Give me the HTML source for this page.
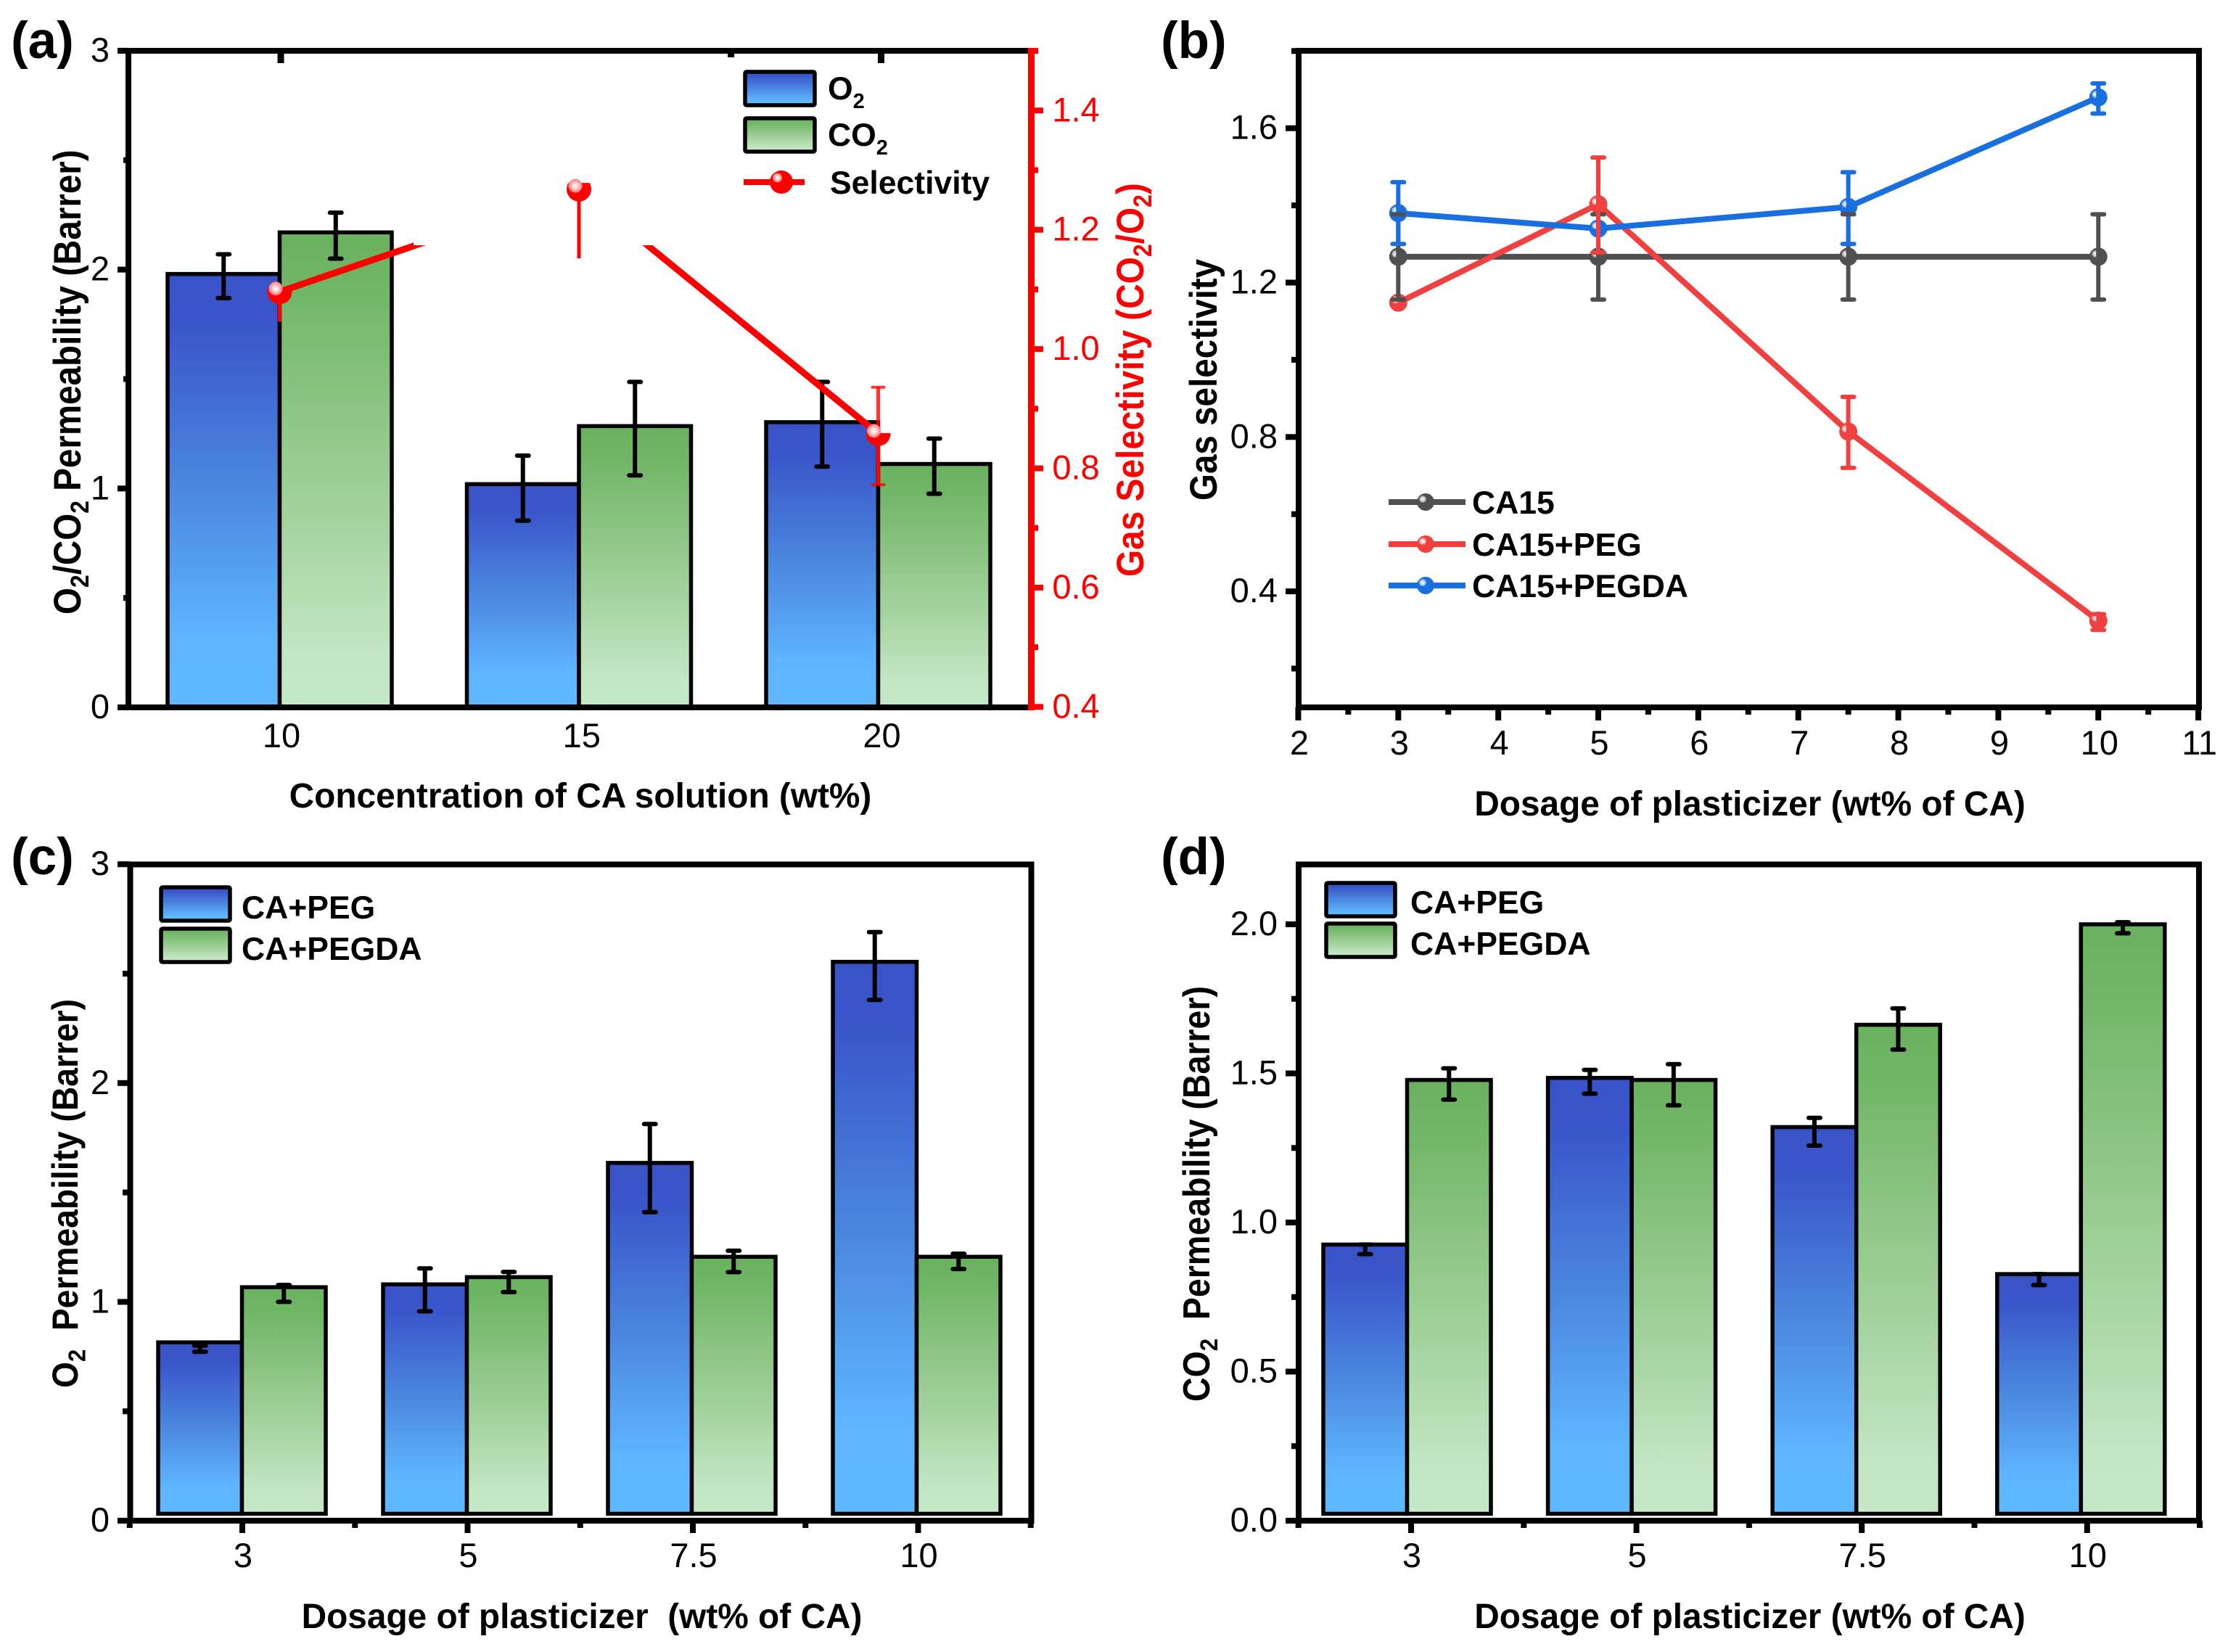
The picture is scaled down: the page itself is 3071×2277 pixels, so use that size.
<!DOCTYPE html>
<html lang="en">
<head>
<meta charset="utf-8">
<title>Gas permeability and selectivity charts</title>
<style>
html,body{margin:0;padding:0;background:#fff;}
svg{display:block;}
text{font-family:"Liberation Sans",Arial,sans-serif;fill:#000;}
.tick{font-size:47px;}
.title{font-size:47.8px;font-weight:bold;}
.panel{font-size:71px;font-weight:bold;}
.leg{font-size:44.5px;font-weight:bold;}
</style>
</head>
<body>
<svg id="fig" xmlns="http://www.w3.org/2000/svg" width="3071" height="2277" viewBox="0 0 3071 2277">
<defs>
<linearGradient id="gBlue" x1="0" y1="0" x2="0" y2="1">
<stop offset="0" stop-color="#3953c7"/><stop offset="0.12" stop-color="#3a56ca"/><stop offset="0.5" stop-color="#4b88e0"/><stop offset="0.85" stop-color="#5fb6ff"/><stop offset="1" stop-color="#5fb8ff"/>
</linearGradient>
<linearGradient id="gGreen" x1="0" y1="0" x2="0" y2="1">
<stop offset="0" stop-color="#6ab25f"/><stop offset="0.1" stop-color="#6fb565"/><stop offset="0.5" stop-color="#9acc92"/><stop offset="0.9" stop-color="#c3e6c4"/><stop offset="1" stop-color="#c5e8c6"/>
</linearGradient>
<radialGradient id="gGlint"><stop offset="0" stop-color="#ffffff"/><stop offset="0.45" stop-color="#ffffff" stop-opacity="0.8"/><stop offset="1" stop-color="#ffffff" stop-opacity="0.35"/></radialGradient>
<radialGradient id="gGlintRed"><stop offset="0" stop-color="#ffffff"/><stop offset="0.4" stop-color="#ffd8d8"/><stop offset="0.7" stop-color="#ffa0a0"/><stop offset="1" stop-color="#ff7d7d"/></radialGradient>
</defs>

<!-- panel letters -->
<text class="panel" x="15" y="80">(a)</text>
<text class="panel" x="1600" y="80">(b)</text>
<text class="panel" x="15" y="1205">(c)</text>
<text class="panel" x="1600" y="1205">(d)</text>

<!-- panel a -->
<g id="panelA"></g>
<rect x="173" y="66" width="8" height="913" fill="#000"/>
<rect x="176" y="971" width="1241" height="8" fill="#000"/>
<rect x="162" y="66" width="1255" height="8" fill="#000"/>
<rect x="1417" y="66" width="9" height="913" fill="#f00"/>
<text class="title" x="800" y="1113" text-anchor="middle">Concentration of CA solution (wt%)</text>
<text class="title" transform="translate(111,847) rotate(-90) scale(0.995,1.1)">O<tspan font-size="32" dy="10">2</tspan><tspan dy="-10">/CO</tspan><tspan font-size="32" dy="10">2</tspan><tspan dy="-10"> Permeability (Barrer)</tspan></text>
<text class="title" transform="translate(1576,795) rotate(-90) scale(1,1.1)" style="fill:#f00">Gas Selectivity (CO<tspan font-size="32" dy="10">2</tspan><tspan dy="-10">/O</tspan><tspan font-size="32" dy="10">2</tspan><tspan dy="-10">)</tspan></text>
<g>
<rect x="1027" y="99" width="96" height="46" rx="2" fill="url(#gBlue)" stroke="#000" stroke-width="5.5"/>
<text class="leg" x="1141" y="137">O<tspan font-size="29" dy="12">2</tspan></text>
<rect x="1027" y="163" width="96" height="46" rx="2" fill="url(#gGreen)" stroke="#000" stroke-width="5.5"/>
<text class="leg" x="1141" y="201">CO<tspan font-size="29" dy="12">2</tspan></text>
<line x1="1025" y1="251" x2="1109" y2="251" stroke="#f00" stroke-width="8"/>
<circle cx="1077" cy="251" r="16" fill="#f00"/>
<circle cx="1071.5" cy="245" r="6.5" fill="url(#gGlintRed)"/>
<text class="leg" x="1144" y="267">Selectivity</text>
</g>

<!-- panel b -->
<g id="panelB"></g>
<rect x="1790" y="70" width="1241" height="905" fill="none" stroke="#000" stroke-width="8"/>
<text class="title" x="2412" y="1124" text-anchor="middle">Dosage of plasticizer (wt% of CA)</text>
<text class="title" transform="translate(1677,690) rotate(-90) scale(0.995,1.1)">Gas selectivity</text>
<g>
<line x1="1914" y1="692" x2="2020" y2="692" stroke="#505050" stroke-width="8"/>
<circle cx="1965" cy="692" r="12" fill="#505050"/>
<circle cx="1961" cy="688" r="5" fill="url(#gGlint)"/>
<text class="leg" x="2029" y="708">CA15</text>
<line x1="1914" y1="750" x2="2020" y2="750" stroke="#f04040" stroke-width="8"/>
<circle cx="1965" cy="750" r="12" fill="#f04040"/>
<circle cx="1961" cy="746" r="5" fill="url(#gGlint)"/>
<text class="leg" x="2029" y="766">CA15+PEG</text>
<line x1="1914" y1="807" x2="2020" y2="807" stroke="#1a6fe0" stroke-width="8"/>
<circle cx="1965" cy="807" r="12" fill="#1a6fe0"/>
<circle cx="1961" cy="803" r="5" fill="url(#gGlint)"/>
<text class="leg" x="2029" y="823">CA15+PEGDA</text>
</g>

<!-- panel c -->
<g id="panelC"></g>
<rect x="179.5" y="1191.5" width="1242" height="904.5" fill="none" stroke="#000" stroke-width="8"/>
<text class="title" x="802" y="2244" text-anchor="middle" xml:space="preserve">Dosage of plasticizer  (wt% of CA)</text>
<text class="title" transform="translate(107,1913) rotate(-90) scale(0.967,1.05)" xml:space="preserve">O<tspan font-size="32" dy="10">2</tspan><tspan dy="-10">  Permeability (Barrer)</tspan></text>
<g>
<rect x="222" y="1223" width="95" height="46" rx="2" fill="url(#gBlue)" stroke="#000" stroke-width="5.5"/>
<text class="leg" x="333" y="1266">CA+PEG</text>
<rect x="222" y="1280" width="95" height="46" rx="2" fill="url(#gGreen)" stroke="#000" stroke-width="5.5"/>
<text class="leg" x="333" y="1323">CA+PEGDA</text>
</g>

<!-- panel d -->
<g id="panelD"></g>
<rect x="1790" y="1191.5" width="1241" height="904.5" fill="none" stroke="#000" stroke-width="8"/>
<text class="title" x="2412" y="2244" text-anchor="middle">Dosage of plasticizer (wt% of CA)</text>
<text class="title" transform="translate(1667,1932) rotate(-90) scale(0.973,1.08)" xml:space="preserve">CO<tspan font-size="32" dy="10">2</tspan><tspan dy="-10">  Permeability (Barrer)</tspan></text>
<g>
<rect x="1828" y="1217" width="95" height="46" rx="2" fill="url(#gBlue)" stroke="#000" stroke-width="5.5"/>
<text class="leg" x="1944" y="1259">CA+PEG</text>
<rect x="1828" y="1273" width="95" height="46" rx="2" fill="url(#gGreen)" stroke="#000" stroke-width="5.5"/>
<text class="leg" x="1944" y="1316">CA+PEGDA</text>
</g>
</svg>

<script>
// ---------- Panel (a) data ----------
const aCategories = [10, 15, 20];
const aCategoryLabels = ['10', '15', '20'];
const aO2 = [1.98, 1.02, 1.303];
const aO2High = [2.07, 1.15, 1.487];
const aO2Low = [1.87, 0.853, 1.10];
const aCO2 = [2.17, 1.285, 1.112];
const aCO2High = [2.26, 1.487, 1.228];
const aCO2Low = [2.05, 1.06, 0.976];
const aSelectivity = [1.096, 1.268, 0.858];
const aSelectivityLow = [1.046, 1.152, 0.7725];
const aSelectivityHigh = [null, null, 0.936];
const aLeftMajor = [0, 1, 2, 3];
const aLeftMajorLabels = ['0', '1', '2', '3'];
const aLeftMinor = [0.5, 1.5, 2.5];
const aRightMajor = [0.4, 0.6, 0.8, 1.0, 1.2, 1.4];
const aRightMajorLabels = ['0.4', '0.6', '0.8', '1.0', '1.2', '1.4'];
const aRightMinor = [0.5, 0.7, 0.9, 1.1, 1.3, 1.5];
const aTopMinor = [12.5, 17.5];

// ---------- Panel (b) data ----------
const bDosage = [3, 5, 7.5, 10];
const bCA15 = [1.267, 1.267, 1.267, 1.267];
const bCA15High = [1.377, 1.377, 1.377, 1.377];
const bCA15Low = [1.156, 1.156, 1.156, 1.156];
const bPEG = [1.148, 1.403, 0.814, 0.324];
const bPEGHigh = [null, 1.524, 0.904, 0.341];
const bPEGLow = [null, 1.278, 0.72, 0.30];
const bPEGDA = [1.38, 1.34, 1.396, 1.68];
const bPEGDAHigh = [1.46, null, 1.486, 1.716];
const bPEGDALow = [1.30, null, 1.30, 1.638];
const bXMajor = [2, 3, 4, 5, 6, 7, 8, 9, 10, 11];
const bXMajorLabels = ['2', '3', '4', '5', '6', '7', '8', '9', '10', '11'];
const bXMinor = [2.5, 3.5, 4.5, 5.5, 6.5, 7.5, 8.5, 9.5, 10.5];
const bYMajor = [0.4, 0.8, 1.2, 1.6];
const bYMajorLabels = ['0.4', '0.8', '1.2', '1.6'];
const bYMinor = [0.2, 0.6, 1.0, 1.4, 1.8];

// ---------- Panel (c) data ----------
const cCategoryLabels = ['3', '5', '7.5', '10'];
const cPEG = [0.815, 1.08, 1.635, 2.554];
const cPEGHigh = [0.8, 1.153, 1.813, 2.69];
const cPEGLow = [0.772, 0.957, 1.41, 2.38];
const cPEGDA = [1.067, 1.113, 1.206, 1.206];
const cPEGDAHigh = [1.077, 1.137, 1.234, 1.22];
const cPEGDALow = [1.0, 1.045, 1.136, 1.15];
const cYMajor = [0, 1, 2, 3];
const cYMajorLabels = ['0', '1', '2', '3'];
const cYMinor = [0.5, 1.5, 2.5];

// ---------- Panel (d) data ----------
const dCategoryLabels = ['3', '5', '7.5', '10'];
const dPEG = [0.926, 1.485, 1.32, 0.827];
const dPEGHigh = [0.926, 1.512, 1.351, 0.827];
const dPEGLow = [0.894, 1.432, 1.258, 0.79];
const dPEGDA = [1.478, 1.478, 1.663, 2.0];
const dPEGDAHigh = [1.517, 1.531, 1.718, 2.007];
const dPEGDALow = [1.412, 1.393, 1.58, 1.97];
const dYMajor = [0, 0.5, 1.0, 1.5, 2.0];
const dYMajorLabels = ['0.0', '0.5', '1.0', '1.5', '2.0'];
const dYMinor = [0.25, 0.75, 1.25, 1.75];

// ---------- helpers ----------
const SVGNS = 'http://www.w3.org/2000/svg';
function mk(tag, attrs, parent) {
  const el = document.createElementNS(SVGNS, tag);
  for (const k in attrs) el.setAttribute(k, attrs[k]);
  parent.appendChild(el);
  return el;
}
function drawBar(parent, x1, x2, yTop, yBase, fill) {
  const el = mk('rect', {x: x1, y: yTop, width: x2 - x1, height: yBase - yTop, fill: fill, stroke: '#000', 'stroke-width': 5.5}, parent);
  
  
}
function drawStem(parent, x, y1, y2, color, w, op) {
  const el = mk('line', {x1: x, x2: x, y1: y1, y2: y2, stroke: color, 'stroke-width': w, 'stroke-opacity': op}, parent);
  
  
}
function drawCap(parent, x, y, color, w, op) {
  const el = mk('line', {x1: x - 8, x2: x + 8, y1: y, y2: y, stroke: color, 'stroke-width': w, 'stroke-linecap': 'round', 'stroke-opacity': op}, parent);
  
  
}
function drawError(parent, x, yHigh, yLow, color) {
  drawStem(parent, x, yHigh, yLow, color, 6, 1);
  drawCap(parent, x, yHigh, color, 6, 1);
  drawCap(parent, x, yLow, color, 6, 1);
}
function drawTickMark(parent, x, y, w, h, color) {
  const el = mk('rect', {x: x, y: y, width: w, height: h, fill: color}, parent);
  
  
}
function drawTickLabel(parent, x, y, label, anchor, color) {
  const el = mk('text', {x: x, y: y, 'text-anchor': anchor, 'class': 'tick'}, parent);
  el.style.fill = color;
  el.textContent = label;
  
  
}
function drawMarker(parent, cx, cy, r, color, gr, gx, gy, glint) {
  const c = mk('circle', {cx: cx, cy: cy, r: r, fill: color}, parent);
  
  
  const g = mk('circle', {cx: cx + gx, cy: cy + gy, r: gr, fill: glint}, parent);
  
  
  return c;
}
function drawPolyline(parent, points, color, w) {
  const el = mk('polyline', {points: points.map(function (p) { return p[0] + ',' + p[1]; }).join(' '), fill: 'none', stroke: color, 'stroke-width': w, 'stroke-linejoin': 'miter'}, parent);
  
  
}

// ---------- Panel (a) ----------
(function () {
  const g = document.getElementById('panelA');
  const yL = function (v) { return 975 - v * 301.7; };
  const yR = function (v) { return 974.3 - (v - 0.4) * 822; };
  const tickX = function (c) { return 387 + (c - 10) * 82.75; };
  const barX = function (c) { return 385.5 + (c - 10) * 82.5; };
  const half = 154.5;

  aCategories.forEach(function (c, i) {
    const x = barX(c);
    drawBar(g, x - half, x, yL(aO2[i]), 975, 'url(#gBlue)');
    drawBar(g, x, x + half, yL(aCO2[i]), 975, 'url(#gGreen)');
    drawError(g, x - half / 2, yL(aO2High[i]), yL(aO2Low[i]), '#000');
    drawError(g, x + half / 2, yL(aCO2High[i]), yL(aCO2Low[i]), '#000');
    drawTickMark(g, tickX(c) - 4.5, 74, 9, 13, '#000');
    drawTickLabel(g, tickX(c) + 1, 1030, aCategoryLabels[i], 'middle', '#000');
  });
  aTopMinor.forEach(function (c) { drawTickMark(g, tickX(c) - 4.5, 74, 9, 5, '#000'); });
  aLeftMajor.forEach(function (v, i) {
    drawTickMark(g, 162, yL(v) - 4, 14, 8, '#000');
    drawTickLabel(g, 151, yL(v) + 15, aLeftMajorLabels[i], 'end', '#000');
  });
  aLeftMinor.forEach(function (v) { drawTickMark(g, 170, yL(v) - 4, 6, 8, '#000'); });
  aRightMajor.forEach(function (v, i) {
    drawTickMark(g, 1426, yR(v) - 4, 12, 8, '#f00');
    drawTickLabel(g, 1483, yR(v) + 15, aRightMajorLabels[i], 'middle', '#f00');
  });
  aRightMinor.forEach(function (v) { drawTickMark(g, 1426, yR(v) - 4, 5, 8, '#f00'); });

  // selectivity line, broken by a white patch in the original figure
  const pts = aCategories.map(function (c, i) { return [barX(c), yR(aSelectivity[i])]; });
  drawPolyline(g, pts, '#f00', 9);
  const patch = mk('rect', {x: 570, y: 74, width: 340, height: 264, fill: '#fff'}, g);
  
  

  const cutAbove = [5.8, 8.7, 1];
  const glintX = [-5.5, -5, -6];
  const glintY = [-4.5, -4.7, -4];
  aCategories.forEach(function (c, i) {
    const x = barX(c);
    const cy = yR(aSelectivity[i]);
    drawStem(g, x, cy, yR(aSelectivityLow[i]), '#f00', 5, 1);
    if (aSelectivityHigh[i] !== null) {
      drawStem(g, x, yR(aSelectivityHigh[i]), cy, '#f00', 5, 0.8);
      drawCap(g, x, yR(aSelectivityHigh[i]), '#f00', 4, 0.8);
      drawCap(g, x, yR(aSelectivityLow[i]), '#f00', 4, 0.8);
    }
    const clipId = 'selClip' + i;
    const cp = mk('clipPath', {id: clipId}, g);
    
    
    const cr = mk('rect', {x: x - 20, y: cy - cutAbove[i], width: 40, height: 40}, cp);
    
    
    const m = drawMarker(g, x, cy, 17, '#f00', 9.5, glintX[i], glintY[i], 'url(#gGlintRed)');
    m.setAttribute('clip-path', 'url(#' + clipId + ')');
  });
})();

// ---------- Panel (b) ----------
(function () {
  const g = document.getElementById('panelB');
  const x = function (v) { return 1927.3 + (v - 3) * 137.85; };
  const y = function (v) { return 176.7 + (1.6 - v) * 532; };
  bXMajor.forEach(function (v, i) {
    drawTickMark(g, x(v) - 4, 975, 8, 18, '#000');
    drawTickLabel(g, x(v) + 1.5, 1040, bXMajorLabels[i], 'middle', '#000');
  });
  bXMinor.forEach(function (v) { drawTickMark(g, x(v) - 4, 975, 8, 10, '#000'); });
  bYMajor.forEach(function (v, i) {
    drawTickMark(g, 1772, y(v) - 4, 18, 8, '#000');
    drawTickLabel(g, 1761, y(v) + 15, bYMajorLabels[i], 'end', '#000');
  });
  bYMinor.forEach(function (v) { drawTickMark(g, 1780, y(v) - 4, 10, 8, '#000'); });

  const gray = '#505050', red = '#f04040', blue = '#1a6fe0';
  const series = [[bCA15, gray], [bPEG, red], [bPEGDA, blue]];
  series.forEach(function (s) {
    const pts = bDosage.map(function (d, i) { return [x(d), y(s[0][i])]; });
    drawPolyline(g, pts, s[1], 8);
  });
  series.forEach(function (s) {
    bDosage.forEach(function (d, i) { drawMarker(g, x(d), y(s[0][i]), 12.5, s[1], 5, -4, -4, 'url(#gGlint)'); });
  });
  // error bars: gray stems, blue bars, gray caps, red bars
  bDosage.forEach(function (d, i) { drawStem(g, x(d), y(bCA15High[i]), y(bCA15Low[i]), gray, 6, 1); });
  bDosage.forEach(function (d, i) {
    if (bPEGDAHigh[i] !== null) drawError(g, x(d), y(bPEGDAHigh[i]), y(bPEGDALow[i]), blue);
  });
  bDosage.forEach(function (d, i) {
    drawCap(g, x(d), y(bCA15High[i]), gray, 6, 1);
    drawCap(g, x(d), y(bCA15Low[i]), gray, 6, 1);
  });
  bDosage.forEach(function (d, i) {
    if (bPEGHigh[i] !== null) drawError(g, x(d), y(bPEGHigh[i]), y(bPEGLow[i]), red);
  });
})();

// ---------- Panels (c) and (d) ----------
function drawGrouped(g, cfg) {
  const n = cfg.labels.length;
  for (let i = 0; i < n; i++) {
    const c = cfg.barStart + i * cfg.barStep;
    const t = cfg.tickStart + i * cfg.step;
    drawBar(g, c - cfg.half, c, cfg.y(cfg.peg[i]), cfg.base, 'url(#gBlue)');
    drawBar(g, c, c + cfg.half, cfg.y(cfg.pegda[i]), cfg.base, 'url(#gGreen)');
    drawError(g, c - cfg.half / 2, cfg.y(cfg.pegHigh[i]), cfg.y(cfg.pegLow[i]), '#000');
    drawError(g, c + cfg.half / 2, cfg.y(cfg.pegdaHigh[i]), cfg.y(cfg.pegdaLow[i]), '#000');
    drawTickMark(g, t - 4, 2096, 8, 17, '#000');
    drawTickLabel(g, t + 1, 2160, cfg.labels[i], 'middle', '#000');
  }
  for (let i = 0; i <= n; i++) {
    drawTickMark(g, cfg.tickStart + (i - 0.5) * cfg.step - 4, 2096, 8, 10, '#000');
  }
  cfg.major.forEach(function (v, i) {
    drawTickMark(g, cfg.tickLeft, cfg.y(v) - 4, cfg.axisX - cfg.tickLeft, 8, '#000');
    drawTickLabel(g, cfg.labelX, cfg.y(v) + 15, cfg.majorLabels[i], 'end', '#000');
  });
  cfg.minor.forEach(function (v) {
    drawTickMark(g, cfg.axisX - 10, cfg.y(v) - 4, 10, 8, '#000');
  });
}
drawGrouped(document.getElementById('panelC'), {
  labels: cCategoryLabels, peg: cPEG, pegda: cPEGDA, pegHigh: cPEGHigh, pegLow: cPEGLow, pegdaHigh: cPEGDAHigh, pegdaLow: cPEGDALow,
  major: cYMajor, majorLabels: cYMajorLabels, minor: cYMinor,
  y: function (v) { return 2096 - v * 301.6; },
  base: 2086.5, barStart: 333.5, barStep: 310, tickStart: 334, step: 310.5, half: 115.5, tickLeft: 162, axisX: 179, labelX: 151
});
drawGrouped(document.getElementById('panelD'), {
  labels: dCategoryLabels, peg: dPEG, pegda: dPEGDA, pegHigh: dPEGHigh, pegLow: dPEGLow, pegdaHigh: dPEGDAHigh, pegdaLow: dPEGDALow,
  major: dYMajor, majorLabels: dYMajorLabels, minor: dYMinor,
  y: function (v) { return 2096 - v * 411; },
  base: 2086.5, barStart: 1939.5, barStep: 309.6, tickStart: 1945, step: 310.6, half: 115.5, tickLeft: 1772, axisX: 1790, labelX: 1761
});
</script>
</body>
</html>
